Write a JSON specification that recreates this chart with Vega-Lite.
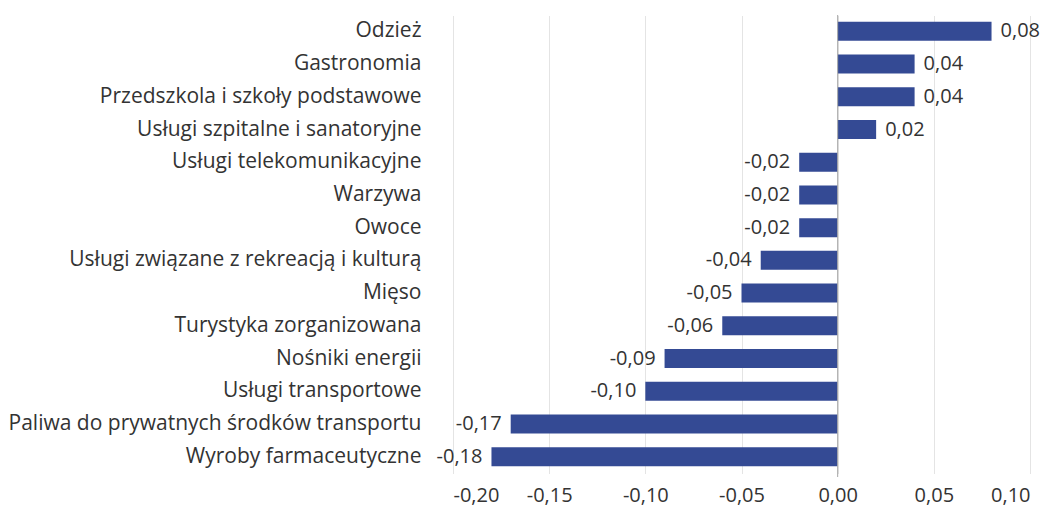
{
  "$schema": "https://vega.github.io/schema/vega-lite/v6.json",
  "autosize": {"type": "none"},
  "width": 577,
  "height": 458,
  "padding": {"left": 453, "top": 15, "right": 21, "bottom": 36},
  "background": "white",
  "config": {
    "locale": {"number": {"decimal": ",", "thousands": " ", "grouping": [3], "currency": ["", " zł"], "minus": "-"}},
    "view": {"stroke": null},
    "font": "Open Sans",
    "axis": {"labelFont": "Open Sans", "labelColor": "#333333", "labelFontSize": 20}
  },
  "data": {"values": [
    {"cat": "Odzież", "value": 0.08},
    {"cat": "Gastronomia", "value": 0.04},
    {"cat": "Przedszkola i szkoły podstawowe", "value": 0.04},
    {"cat": "Usługi szpitalne i sanatoryjne", "value": 0.02},
    {"cat": "Usługi telekomunikacyjne", "value": -0.02},
    {"cat": "Warzywa", "value": -0.02},
    {"cat": "Owoce", "value": -0.02},
    {"cat": "Usługi związane z rekreacją i kulturą", "value": -0.04},
    {"cat": "Mięso", "value": -0.05},
    {"cat": "Turystyka zorganizowana", "value": -0.06},
    {"cat": "Nośniki energii", "value": -0.09},
    {"cat": "Usługi transportowe", "value": -0.10},
    {"cat": "Paliwa do prywatnych środków transportu", "value": -0.17},
    {"cat": "Wyroby farmaceutyczne", "value": -0.18}
  ]},
  "encoding": {
    "y": {"field": "cat", "type": "nominal", "sort": null,
      "scale": {"paddingInner": 0.42, "paddingOuter": 0.21},
      "axis": {"title": null, "domain": false, "ticks": false, "labelPadding": 32, "labelLimit": 0, "labelFontSize": 21}},
    "x": {"field": "value", "type": "quantitative",
      "scale": {"domain": [-0.2, 0.1], "nice": false, "zero": false},
      "axis": {"title": null, "values": [-0.2, -0.15, -0.1, -0.05, 0, 0.05, 0.1], "format": ".2f",
        "domain": false, "ticks": false, "labelPadding": 12, "grid": true, "gridColor": "#c8c8c8", "gridDash": [1, 1], "gridWidth": 1}}
  },
  "layer": [
    {"mark": {"type": "bar", "color": "#344a94"}},
    {"data": {"values": [{"z": 0}]},
     "mark": {"type": "rule", "color": "#a6a6a6", "strokeWidth": 1, "y": 0, "y2": 462},
     "encoding": {"x": {"field": "z", "type": "quantitative"}, "y": null}},
    {"transform": [{"filter": "datum.value >= 0"}],
     "mark": {"type": "text", "align": "left", "dx": 9, "fontSize": 20, "color": "#333333"},
     "encoding": {"text": {"field": "value", "type": "quantitative", "format": ".2f"}}},
    {"transform": [{"filter": "datum.value < 0"}],
     "mark": {"type": "text", "align": "right", "dx": -9, "fontSize": 20, "color": "#333333"},
     "encoding": {"text": {"field": "value", "type": "quantitative", "format": ".2f"}}}
  ]
}
